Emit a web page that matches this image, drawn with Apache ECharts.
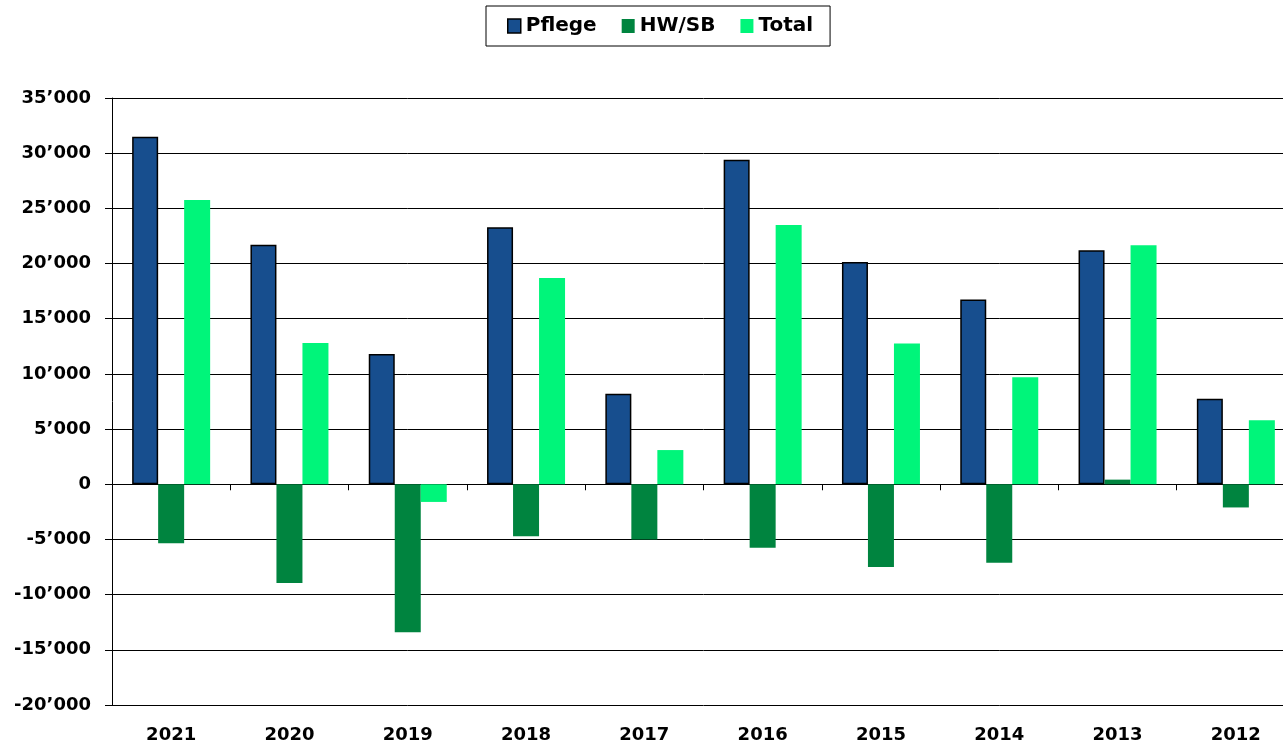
<!DOCTYPE html>
<html lang="de">
<head>
    <meta charset="UTF-8">
    <title>Pflege HW/SB Total</title>
    <style>
        html, body { margin: 0; padding: 0; background: #fff; overflow: hidden; }
        /* etwas breiter als das Fenster, rechter Rand wird wie im Original abgeschnitten */
        #main { width: 1295px; height: 746px; }
    </style>
</head>
<body>
<div id="main"></div>
<script src="https://cdn.jsdelivr.net/npm/echarts@6/dist/echarts.min.js"></script>
<script>
    // Jahre (absteigend wie im Original)
    var years = ['2021', '2020', '2019', '2018', '2017', '2016', '2015', '2014', '2013', '2012'];
    var pflege = [31500, 21700, 11800, 23300, 8200, 29400, 20150, 16750, 21200, 7750];
    var hwsb = [-5350, -8950, -13400, -4700, -5000, -5750, -7500, -7100, 420, -2100];
    var total = [25750, 12800, -1600, 18700, 3100, 23500, 12750, 9700, 21650, 5800];

    // Tausendertrennzeichen wie 35’000
    function fmt(v) {
        var s = String(Math.abs(v)).replace(/\B(?=(\d{3})+(?!\d))/g, '\u2019');
        return (v < 0 ? '-' : '') + s;
    }

    var chart = echarts.init(document.getElementById('main'));
    var font = 'DejaVu Sans, Arial, sans-serif';

    var option = {
        animation: false,
        legend: {
            top: 6,
            left: 486,
            padding: [10, 17, 10, 21],
            borderColor: '#000',
            borderWidth: 1,
            icon: 'rect',
            itemWidth: 13,
            itemHeight: 14,
            itemGap: 25,
            textStyle: { fontFamily: font, fontSize: 20, fontWeight: 'bold', color: '#000' },
            data: [
                { name: 'Pflege', itemStyle: { borderColor: '#000', borderWidth: 1.5 } },
                { name: 'HW/SB' },
                { name: 'Total' }
            ]
        },
        grid: { left: 112, right: 0, top: 98, bottom: 41 },
        xAxis: [
            {
                type: 'category',
                data: years,
                axisLine: { onZero: true, lineStyle: { color: '#000', width: 1 } },
                axisTick: { show: true, length: 6, lineStyle: { color: '#000' } },
                axisLabel: { show: false }
            },
            {
                type: 'category',
                data: years,
                position: 'bottom',
                axisLine: { show: false },
                axisTick: { show: false },
                axisLabel: { margin: 21, fontFamily: font, fontSize: 18, fontWeight: 'bold', color: '#000' }
            }
        ],
        yAxis: {
            type: 'value',
            min: -20000,
            max: 35000,
            interval: 5000,
            axisLine: { show: true, lineStyle: { color: '#000' } },
            axisTick: { show: true, length: 7, lineStyle: { color: '#000' } },
            splitLine: { show: true, lineStyle: { color: '#000', width: 1 } },
            axisLabel: {
                margin: 21,
                fontFamily: font,
                fontSize: 18,
                fontWeight: 'bold',
                color: '#000',
                formatter: fmt
            }
        },
        series: [
            {
                name: 'Pflege',
                type: 'bar',
                xAxisIndex: 0,
                barWidth: 26,
                barGap: '0%',
                itemStyle: { color: '#174E8E', borderColor: '#000', borderWidth: 1.5 },
                data: pflege
            },
            {
                name: 'HW/SB',
                type: 'bar',
                xAxisIndex: 0,
                barWidth: 26,
                barGap: '0%',
                itemStyle: { color: '#00843F' },
                data: hwsb
            },
            {
                name: 'Total',
                type: 'bar',
                xAxisIndex: 0,
                barWidth: 26,
                barGap: '0%',
                itemStyle: { color: '#00F57A' },
                data: total
            }
        ]
    };
    chart.setOption(option);
</script>
</body>
</html>
